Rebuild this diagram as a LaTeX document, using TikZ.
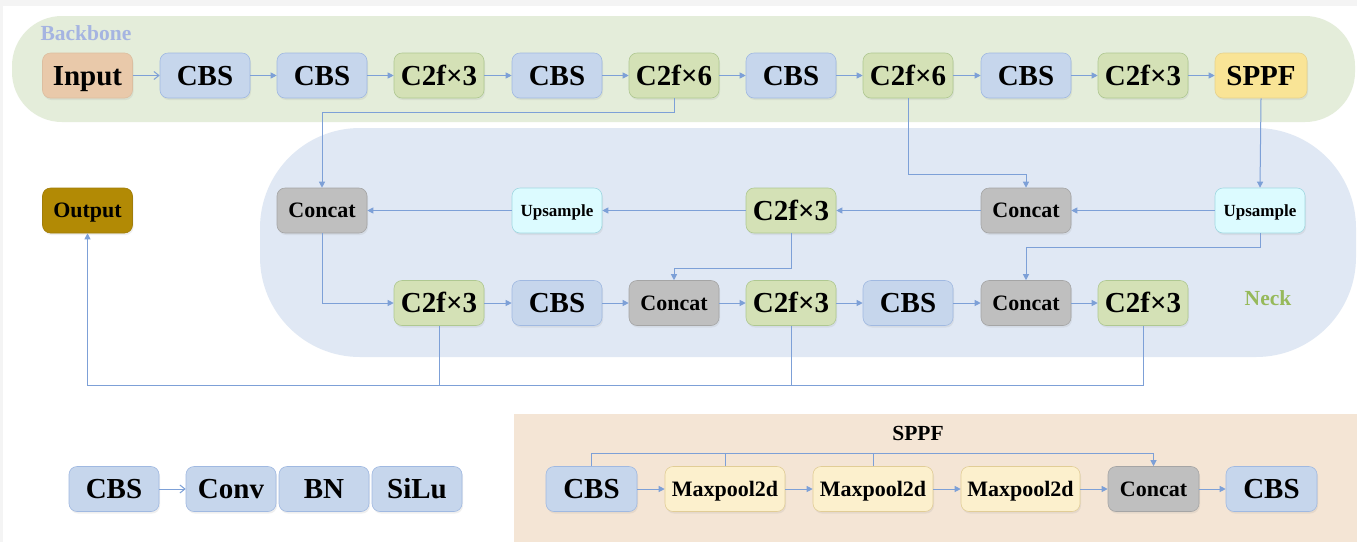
\documentclass[tikz,border=0pt]{standalone}
\usepackage{fontspec}
\setmainfont{Liberation Serif}
\usetikzlibrary{arrows.meta,shadows}
\definecolor{bluef}{RGB}{198,214,236}\definecolor{blued}{RGB}{160,185,225}
\definecolor{greenf}{RGB}{212,225,182}\definecolor{greend}{RGB}{175,200,145}
\definecolor{grayf}{RGB}{191,191,191}\definecolor{grayd}{RGB}{165,165,165}
\definecolor{cyanf}{RGB}{220,251,255}\definecolor{cyand}{RGB}{160,215,225}
\definecolor{inpf}{RGB}{233,201,170}\definecolor{inpd}{RGB}{220,190,160}
\definecolor{yelf}{RGB}{249,228,150}\definecolor{yeld}{RGB}{230,210,140}
\definecolor{mpf}{RGB}{252,240,205}\definecolor{mpd}{RGB}{225,205,150}
\definecolor{outf}{RGB}{178,138,5}\definecolor{outd}{RGB}{160,125,10}
\definecolor{bbbg}{RGB}{228,237,218}
\definecolor{nkbg}{RGB}{224,232,244}
\definecolor{spbg}{RGB}{244,229,213}
\definecolor{conn}{RGB}{125,160,215}
\definecolor{bblab}{RGB}{165,180,225}
\definecolor{nklab}{RGB}{150,185,90}
\definecolor{outer}{RGB}{244,244,244}
\tikzset{
  box/.style={rounded corners=8pt, minimum width=90pt, minimum height=45pt, inner sep=0pt,
    line width=0.6pt, font=\bfseries\fontsize{29}{30}\selectfont,
    text height=19.2pt, text depth=0pt,
    drop shadow={opacity=0.12, shadow xshift=1pt, shadow yshift=-2pt}},
  small/.style={font=\bfseries\fontsize{22}{24}\selectfont, text height=14.6pt},
  tiny/.style={font=\bfseries\fontsize{17}{18}\selectfont, text height=11.3pt},
  cbs/.style={box, fill=bluef, draw=blued},
  c2f/.style={box, fill=greenf, draw=greend},
  cat/.style={box, small, fill=grayf, draw=grayd},
  ups/.style={box, tiny, fill=cyanf, draw=cyand},
  mp/.style={box, small, fill=mpf, draw=mpd, minimum width=120pt},
  link/.style={draw=conn, line width=1pt},
  arr/.style={link, -{Triangle[length=6pt,width=6pt]}},
  barb/.style={link, -{Straight Barb[length=5pt,width=8pt]}},
}
\begin{document}
\begin{tikzpicture}[x=1pt,y=-1pt]
\useasboundingbox (0,0) rectangle (1357,542);
\fill[outer] (0,0) rectangle (1357,542);
\fill[white] (3,6) rectangle (1357,542);
% regions
\fill[bbbg, rounded corners=50pt] (12,16) rectangle (1355,122);
\fill[nkbg, rounded corners=100pt] (260,128) rectangle (1356,357);
\fill[spbg] (514,414) rectangle (1357,542);
\node[text=bblab, font=\bfseries\fontsize{21.5}{22}\selectfont] (bblabel) at (86,33) {Backbone};
\node[text=nklab, font=\bfseries\fontsize{21.5}{22}\selectfont] (nklabel) at (1268,298) {Neck};
\node[font=\bfseries\fontsize{21.5}{22}\selectfont] (sptitle) at (918,433) {SPPF};
% backbone
\node[box, fill=inpf, draw=inpd] (b1) at (87.5,75.5) {Input};
\node[cbs] (b2) at (205,75.5) {CBS};
\node[cbs] (b3) at (322,75.5) {CBS};
\node[c2f] (b4) at (439,75.5) {C2f×3};
\node[cbs] (b5) at (557,75.5) {CBS};
\node[c2f] (b6) at (674,75.5) {C2f×6};
\node[cbs] (b7) at (791,75.5) {CBS};
\node[c2f] (b8) at (908,75.5) {C2f×6};
\node[cbs] (b9) at (1026,75.5) {CBS};
\node[c2f] (b10) at (1143,75.5) {C2f×3};
\node[box, fill=yelf, draw=yeld, minimum width=92pt] (b11) at (1261,75.5) {SPPF};
\draw[barb] (b1) -- (b2);
\foreach \a/\b in {b2/b3,b3/b4,b4/b5,b5/b6,b6/b7,b7/b8,b8/b9,b9/b10,b10/b11}
  \draw[arr] (\a) -- (\b);
% neck row 1
\node[cat] (nc1) at (322,210.5) {Concat};
\node[ups] (nu1) at (557,210.5) {Upsample};
\node[c2f] (n3) at (791,210.5) {C2f×3};
\node[cat] (nc2) at (1026,210.5) {Concat};
\node[ups] (nu2) at (1260,210.5) {Upsample};
% neck row 2
\node[c2f] (r1) at (439,303) {C2f×3};
\node[cbs] (r2) at (557,303) {CBS};
\node[cat] (rc1) at (674,303) {Concat};
\node[c2f] (r4) at (791,303) {C2f×3};
\node[cbs] (r5) at (908,303) {CBS};
\node[cat] (rc2) at (1026,303) {Concat};
\node[c2f] (r7) at (1143,303) {C2f×3};
% output
\node[box, small, fill=outf, draw=outd] (out) at (87.5,210.5) {Output};
% neck connectors
\draw[arr] (b6.south) -- ++(0,14) -| (nc1.north);
\draw[arr] (b8.south) -- ++(0,76) -| (nc2.north);
\draw[arr] (b11.south) -- (nu2.north);
\draw[arr] (nu2) -- (nc2);
\draw[arr] (nc2) -- (n3);
\draw[arr] (n3) -- (nu1);
\draw[arr] (nu1) -- (nc1);
\draw[arr] (nc1.south) |- (r1.west);
\draw[arr] (n3.south) -- ++(0,35) -| (rc1.north);
\draw[arr] (nu2.south) -- ++(0,14) -| (rc2.north);
\foreach \a/\b in {r1/r2,r2/rc1,rc1/r4,r4/r5,r5/rc2,rc2/r7}
  \draw[arr] (\a) -- (\b);
\coordinate (bus) at (87.5,385);
\draw[arr] (r7.south) |- (bus) -- (out.south);
\draw[link] (r1.south) -- (r1.south |- bus);
\draw[link] (r4.south) -- (r4.south |- bus);
% CBS legend
\node[cbs] (l1) at (114,489) {CBS};
\node[cbs] (l2) at (231,489) {Conv};
\node[cbs] (l3) at (324,489) {BN};
\node[cbs] (l4) at (417,489) {SiLu};
\draw[barb] (l1) -- (l2);
% SPPF detail
\node[cbs, minimum width=91pt] (s1) at (591.5,489) {CBS};
\node[mp] (m1) at (725,489) {Maxpool2d};
\node[mp] (m2) at (873,489) {Maxpool2d};
\node[mp, minimum width=119pt] (m3) at (1020.5,489) {Maxpool2d};
\node[cat, minimum width=91pt] (sc) at (1153.5,489) {Concat};
\node[cbs, minimum width=91pt] (s2) at (1271.5,489) {CBS};
\foreach \a/\b in {s1/m1,m1/m2,m2/m3,m3/sc,sc/s2}
  \draw[arr] (\a) -- (\b);
\draw[arr] (s1.north) -- ++(0,-13) -| (sc.north);
\draw[link] (m1.north) -- ++(0,-13);
\draw[link] (m2.north) -- ++(0,-13);
\end{tikzpicture}
\end{document}
